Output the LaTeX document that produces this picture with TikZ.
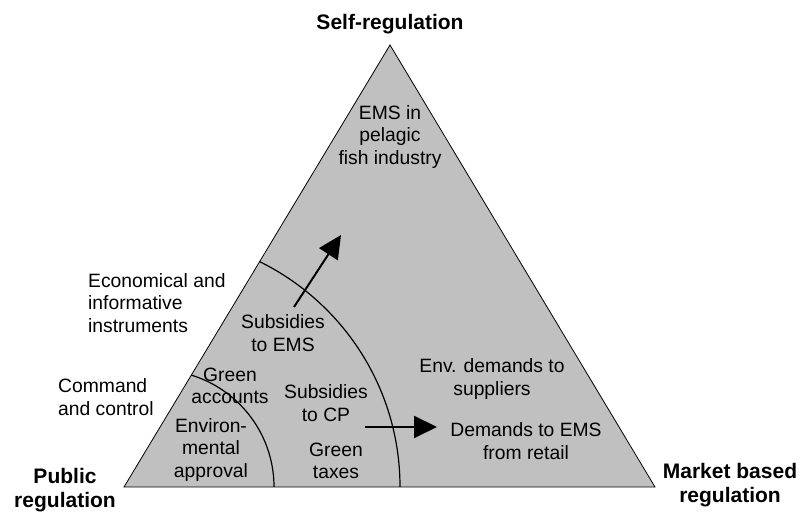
\documentclass[tikz,border=0pt]{standalone}
\usepackage{fontspec}
\setmainfont{Liberation Sans}
\usetikzlibrary{arrows.meta}
\definecolor{trigray}{HTML}{C0C0C0}
\begin{document}
\begin{tikzpicture}[x=1pt,y=1pt,
  txt/.style={align=center,inner sep=0pt,font=\fontsize{19.3}{22.5}\selectfont},
  ltxt/.style={align=left,anchor=west,inner sep=0pt,font=\fontsize{19.3}{22.5}\selectfont},
  corner/.style={align=center,inner sep=0pt,font=\fontsize{21}{24.5}\selectfont\bfseries},
  arcline/.style={line width=1.2pt},
  bigarrow/.style={line width=2pt,-{Triangle[length=23pt,width=22pt]}}]
\useasboundingbox (0,0) rectangle (800,513);
\coordinate (pl) at (124,26);
\coordinate (pr) at (655,26);
\coordinate (pt) at (390,468);
\fill[trigray] (pl) -- (pr) -- (pt) -- cycle;
\begin{scope}
  \clip (pl) -- (pr) -- (pt) -- cycle;
  \draw[arcline] (157,26) circle[radius=117];
  \draw[arcline] (149,26) circle[radius=251];
\end{scope}
\draw[line width=0.8pt] (pl) -- (pr) -- (pt) -- cycle;
\node[corner] (self) at (390,489) {Self-regulation};
\node[corner] (pub) at (65,23) {Public\\regulation};
\node[corner] (mkt) at (730,28) {Market based\\regulation};
\node[txt] (ems) at (390,376) {EMS in\\pelagic\\fish industry};
\node[ltxt] (eco) at (88,210) {Economical and\\informative\\instruments};
\node[ltxt] (cmd) at (58,116) {Command\\and control};
\node[txt] (gacc) at (230,127) {Green\\accounts};
\node[txt] (envapp) at (211,63) {Environ-\\mental\\approval};
\node[txt] (subcp) at (326,110) {Subsidies\\to CP};
\node[txt] (gtax) at (336,52) {Green\\taxes};
\node[txt] (subems) at (283,180) {Subsidies\\to EMS};
\node[txt] (envdem) at (492,134) {Env. demands to\\suppliers};
\node[txt] (demret) at (526,72) {Demands to EMS\\from retail};
\coordinate (a1s) at (294,206);
\coordinate (a1e) at (341,278);
\coordinate (a2s) at (365,86);
\coordinate (a2e) at (437,86);
\draw[bigarrow] (a1s) -- (a1e);
\draw[bigarrow] (a2s) -- (a2e);
\end{tikzpicture}
\end{document}
